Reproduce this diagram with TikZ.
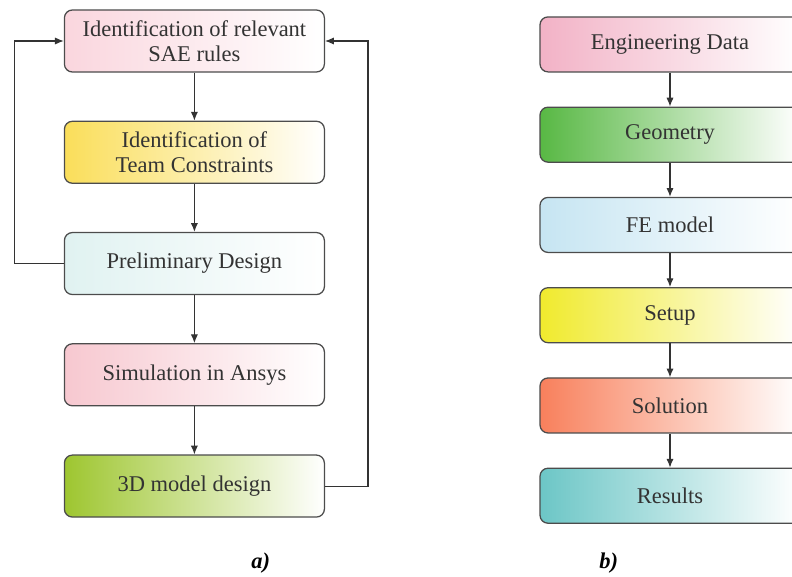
\documentclass[tikz,border=0pt]{standalone}
\usepackage{fontspec}
\setmainfont{Liberation Serif}
\usetikzlibrary{positioning,arrows.meta}

\definecolor{saepink}{RGB}{250,214,222}
\definecolor{teamyel}{RGB}{250,222,90}
\definecolor{prelcyan}{RGB}{224,242,241}
\definecolor{simpink}{RGB}{247,200,208}
\definecolor{cadgreen}{RGB}{158,198,48}
\definecolor{engpink}{RGB}{242,178,198}
\definecolor{geogreen}{RGB}{88,184,68}
\definecolor{fecyan}{RGB}{198,229,242}
\definecolor{setupyel}{RGB}{240,234,45}
\definecolor{solorange}{RGB}{248,128,92}
\definecolor{restea}{RGB}{108,198,198}

\begin{document}
\begin{tikzpicture}[font=\fontsize{16}{18}\selectfont, >={Latex[length=2.2mm,width=1.8mm]},
  lbox/.style={draw=black!70, line width=0.9pt, rounded corners=2mm, minimum width=6.5cm, minimum height=1.55cm, align=center, text=black!80},
  rbox/.style={lbox, minimum height=1.375cm},
  grad/.style={left color=#1, middle color=#1!35, right color=white},
  link/.style={->, draw=black!80, line width=0.8pt}]
\useasboundingbox (0,0) rectangle (19.8,-14.4);
\clip (0,0) rectangle (19.8,-14.4);
% a) design loop
\node[lbox, grad=saepink] (sae) at (4.86,-1.025) {Identification of relevant\\SAE rules};
\node[lbox, grad=teamyel, below=1.2cm of sae] (team) {Identification of\\Team Constraints};
\node[lbox, grad=prelcyan, below=1.2cm of team] (prel) {Preliminary Design};
\node[lbox, grad=simpink, below=1.2cm of prel] (sim) {Simulation in Ansys};
\node[lbox, grad=cadgreen, below=1.2cm of sim] (cad) {3D model design};
\foreach \a/\b in {sae/team,team/prel,prel/sim,sim/cad}
  \draw[link] (\a)--(\b);
\draw[link] (prel.west) -- ++(-1.225,0) |- (sae.west);
\draw[link] (cad.east) -- ++(1.075,0) |- (sae.east);
\node (capa) at (6.52,-14.07) {\textbf{\textit{a)}}};
% b) FE workflow
\node[rbox, grad=engpink] (eng) at (16.75,-1.11) {Engineering Data};
\node[rbox, grad=geogreen, below=0.85cm of eng] (geo) {Geometry};
\node[rbox, grad=fecyan, below=0.85cm of geo] (fem) {FE model};
\node[rbox, grad=setupyel, below=0.85cm of fem] (setup) {Setup};
\node[rbox, grad=solorange, below=0.85cm of setup] (sol) {Solution};
\node[rbox, grad=restea, below=0.85cm of sol] (res) {Results};
\foreach \a/\b in {eng/geo,geo/fem,fem/setup,setup/sol,sol/res}
  \draw[link] (\a)--(\b);
\node (capb) at (15.22,-14.07) {\textbf{\textit{b)}}};
\end{tikzpicture}
\end{document}
